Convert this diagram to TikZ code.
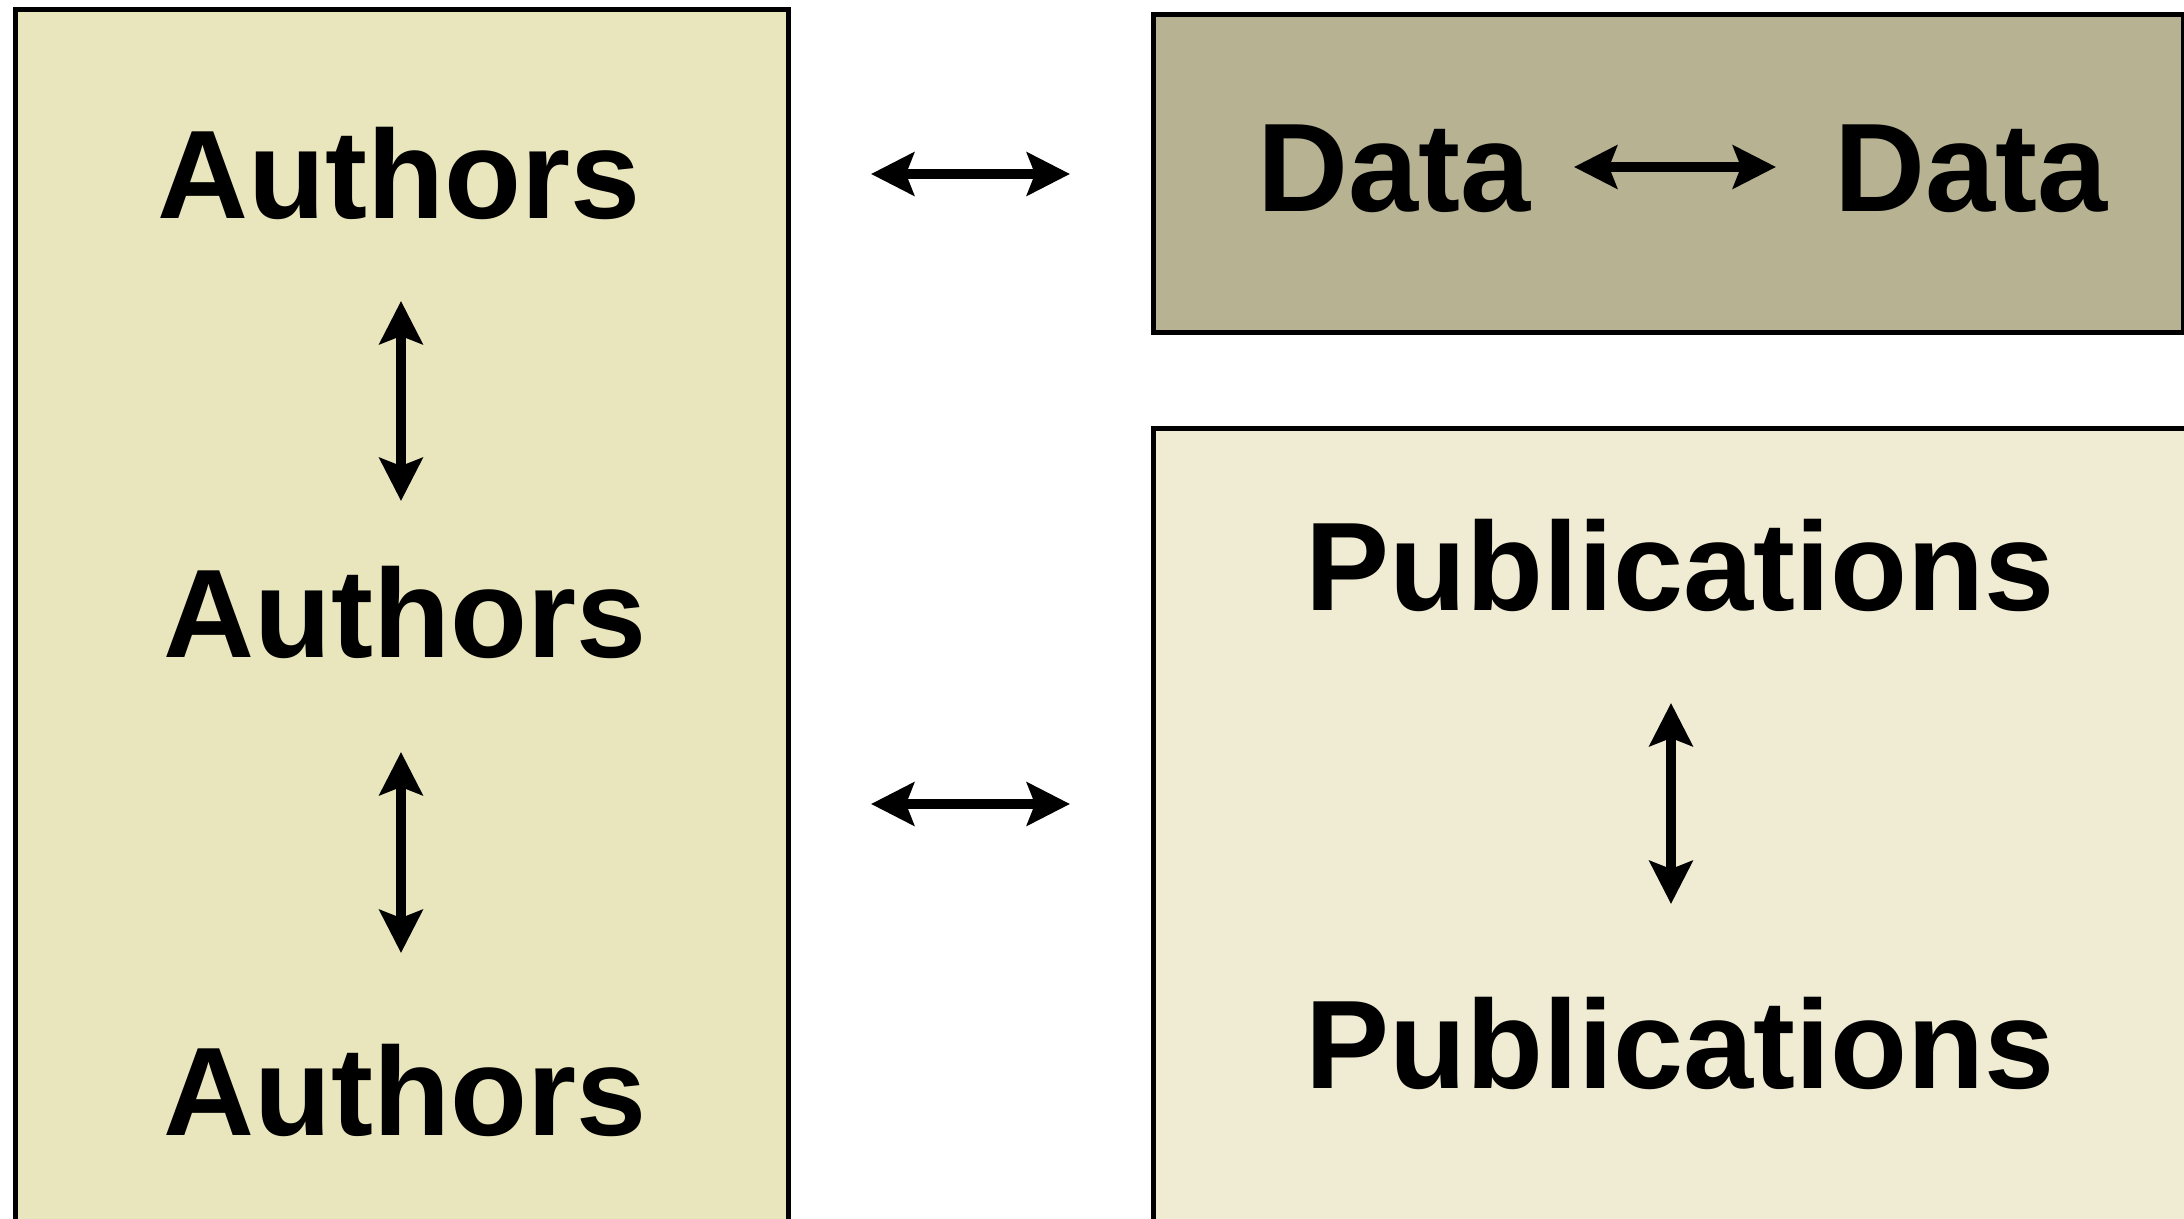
\documentclass[tikz,border=0pt]{standalone}
\usepackage{fontspec}
\setmainfont{Liberation Sans}
\usetikzlibrary{arrows.meta}
\definecolor{authfill}{RGB}{233,230,189}
\definecolor{datafill}{RGB}{183,178,146}
\definecolor{pubfill}{RGB}{240,236,212}
\tikzset{
  panel/.style={draw=black, line width=2.5pt},
  label/.style={anchor=base, inner sep=0pt, font=\bfseries\fontsize{63}{63}\selectfont},
  dbl/.style={line width=5pt, {Stealth[length=21.5pt,width=21.5pt,inset=4pt]}-{Stealth[length=21.5pt,width=21.5pt,inset=4pt]}}
}
\begin{document}
\begin{tikzpicture}[x=0.5pt,y=-0.5pt]
\clip (0,0) rectangle (2184,1219);
\fill[white] (0,0) rectangle (2184,1219);
% panels
\draw[panel, fill=authfill] (15,10) rectangle (788,1260);
\draw[panel, fill=datafill] (1153,15) rectangle (2183,333);
\draw[panel, fill=pubfill] (1153,429) rectangle (2190,1260);
% labels
\node[label] (a1) at (399,219) {Authors};
\node[label] (a2) at (405,657) {Authors};
\node[label] (a3) at (405,1135) {Authors};
\node[label] (d1) at (1394,212) {Data};
\node[label] (d2) at (1971,212) {Data};
\node[label] (p1) at (1680,610) {Publications};
\node[label] (p2) at (1680,1088) {Publications};
% arrow end points
\coordinate (v1s) at (401,301); \coordinate (v1e) at (401,501);
\coordinate (v2s) at (401,752); \coordinate (v2e) at (401,953);
\coordinate (vps) at (1671,703); \coordinate (vpe) at (1671,904);
\coordinate (h1s) at (871,174); \coordinate (h1e) at (1070,174);
\coordinate (h2s) at (871,804); \coordinate (h2e) at (1070,804);
\coordinate (hds) at (1574,167); \coordinate (hde) at (1776,167);
% arrows
\draw[dbl] (v1s) -- (v1e);
\draw[dbl] (v2s) -- (v2e);
\draw[dbl] (vps) -- (vpe);
\draw[dbl] (h1s) -- (h1e);
\draw[dbl] (h2s) -- (h2e);
\draw[dbl] (hds) -- (hde);
\end{tikzpicture}
\end{document}
